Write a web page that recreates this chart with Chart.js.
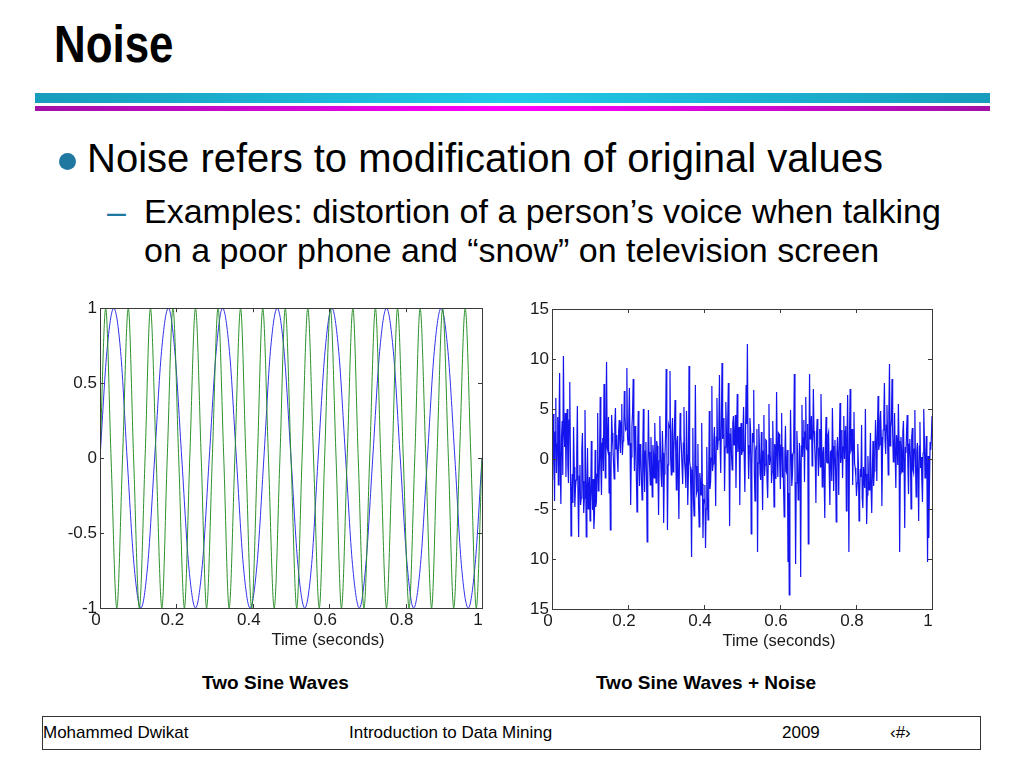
<!DOCTYPE html>
<html>
<head>
<meta charset="utf-8">
<script src="https://cdn.jsdelivr.net/npm/chart.js@4.4.1/dist/chart.umd.min.js"></script>
<style>
  body { margin: 0; width: 1024px; height: 768px; background: #fff; position: relative; overflow: hidden;
         font-family: "Liberation Sans", Arial, sans-serif; color: #000; }
  .abs { position: absolute; white-space: nowrap; }
  #title { left: 54px; top: 19px; font: bold 51px/51px "Liberation Sans", Arial, sans-serif;
           transform: scaleX(0.86); transform-origin: 0 0; }
  #barCyan { left: 35px; top: 93px; width: 955px; height: 10px;
             background: linear-gradient(to right, #179cbc, #22c8e8 50%, #179cbc); }
  #barMagenta { left: 35px; top: 106px; width: 955px; height: 5px;
                background: linear-gradient(to right, #a012a6, #ff00ff 50%, #a012a6); }
  #dot { left: 59px; top: 153px; width: 17px; height: 17px; border-radius: 50%; background: #1f78a0; }
  #line1 { left: 87px; top: 138px; font-size: 40px; line-height: 40px; }
  #dash { left: 107px; top: 194px; font-size: 34px; line-height: 34px; color: #1f78a0; }
  #line2 { left: 144px; top: 191.5px; font-size: 34px; line-height: 39.5px; }
  .caption { top: 672px; width: 260px; text-align: center; font-weight: bold; font-size: 19px; line-height: 22px; }
  #footer { left: 42px; top: 716px; width: 939px; height: 34px; box-sizing: border-box; border: 1.5px solid #333; }
  .foot { top: 723px; font-size: 17px; line-height: 20px; }
  canvas { position: absolute; }
</style>
</head>
<body>
<div class="abs" id="title">Noise</div>
<div class="abs" id="barCyan"></div>
<div class="abs" id="barMagenta"></div>
<div class="abs" id="dot"></div>
<div class="abs" id="line1">Noise refers to modification of original values</div>
<div class="abs" id="dash">–</div>
<div class="abs" id="line2">Examples: distortion of a person’s voice when talking<br>on a poor phone and “snow” on television screen</div>

<canvas id="sineChart" width="460" height="360" style="left:40px; top:295px;"></canvas>
<canvas id="noiseChart" width="460" height="360" style="left:491px; top:295px;"></canvas>

<div class="abs caption" style="left:145.5px;">Two Sine Waves</div>
<div class="abs caption" style="left:576px;">Two Sine Waves + Noise</div>

<div class="abs" id="footer"></div>
<div class="abs foot" style="left:43px;">Mohammed Dwikat</div>
<div class="abs foot" style="left:349px;">Introduction to Data Mining</div>
<div class="abs foot" style="left:782px;">2009</div>
<div class="abs foot" style="left:890px;">‹#›</div>

<script>
// tick positions and their texts
let timeTicks = [0, 0.2, 0.4, 0.6, 0.8, 1];
let timeTickLabels = ['0', '0.2', '0.4', '0.6', '0.8', '1'];
let timeAxisTitle = 'Time (seconds)';
let sineYTicks = [-1, -0.5, 0, 0.5, 1];
let sineYTickLabels = ['-1', '-0.5', '0', '0.5', '1'];
let noiseYTicks = [-15, -10, -5, 0, 5, 10, 15];
let noiseYTickLabels = ['15', '10', '-5', '0', '5', '10', '15'];

// slower wave (blue), read at every eighth of a period
let blueTimes = [0, 0.018, 0.036, 0.054, 0.071, 0.089, 0.107, 0.125, 0.143, 0.161, 0.179, 0.196, 0.214, 0.232,
    0.25, 0.268, 0.286, 0.304, 0.321, 0.339, 0.357, 0.375, 0.393, 0.411, 0.429, 0.446, 0.464, 0.482,
    0.5, 0.518, 0.536, 0.554, 0.571, 0.589, 0.607, 0.625, 0.643, 0.661, 0.679, 0.696, 0.714, 0.732,
    0.75, 0.768, 0.786, 0.804, 0.821, 0.839, 0.857, 0.875, 0.893, 0.911, 0.929, 0.946, 0.964, 0.982, 1];
let blueValues = [0, 0.71, 1, 0.71, 0, -0.71, -1, -0.71,
    0, 0.71, 1, 0.71, 0, -0.71, -1, -0.71,
    0, 0.71, 1, 0.71, 0, -0.71, -1, -0.71,
    0, 0.71, 1, 0.71, 0, -0.71, -1, -0.71,
    0, 0.71, 1, 0.71, 0, -0.71, -1, -0.71,
    0, 0.71, 1, 0.71, 0, -0.71, -1, -0.71,
    0, 0.71, 1, 0.71, 0, -0.71, -1, -0.71,
    0];

// faster wave (green), read at every quarter of a period
let greenTimes = [0, 0.015, 0.029, 0.044, 0.059, 0.074, 0.088, 0.103, 0.118, 0.132, 0.147, 0.162, 0.176, 0.191,
    0.206, 0.221, 0.235, 0.25, 0.265, 0.279, 0.294, 0.309, 0.324, 0.338, 0.353, 0.368, 0.382, 0.397,
    0.412, 0.426, 0.441, 0.456, 0.471, 0.485, 0.5, 0.515, 0.529, 0.544, 0.559, 0.574, 0.588, 0.603,
    0.618, 0.632, 0.647, 0.662, 0.676, 0.691, 0.706, 0.721, 0.735, 0.75, 0.765, 0.779, 0.794, 0.809,
    0.824, 0.838, 0.853, 0.868, 0.882, 0.897, 0.912, 0.926, 0.941, 0.956, 0.971, 0.985, 1];
let greenValues = [0, 1, 0, -1, 0, 1, 0, -1, 0, 1, 0, -1, 0, 1, 0, -1, 0, 1, 0, -1,
    0, 1, 0, -1, 0, 1, 0, -1, 0, 1, 0, -1, 0, 1, 0, -1, 0, 1, 0, -1,
    0, 1, 0, -1, 0, 1, 0, -1, 0, 1, 0, -1, 0, 1, 0, -1, 0, 1, 0, -1,
    0, 1, 0, -1, 0, 1, 0, -1, 0];

// noisy signal, evenly sampled from t = 0 to t = 1 (30 samples per 0.05 s)
let noiseValues = [
    0.4, -2.1, 4.5, 1.9, -4.2, 2.7, 6.1, -1.4, 1.5, 4.2, -2.6, 3.1, 8.6, -0.9, -4.5, 2.2, 3.8, -1.6, 10.3, 2.8, 1.2, 4.6, -1.8, 3.3, 5.0, -0.7, -2.4, 3.9, 7.7, 0.5,
    -7.7, -3.5, -1.5, -4.4, 3.2, -0.8, -4.8, -2.9, -2.1, 0.6, 5.3, -3.8, -7.8, -1.7, -0.6, -4.6, -3.9, 0.9, 2.6, -2.2, -5.4, -3.9, 4.9, -1.1, -7.8, -3.4, 1.1, -5.0, -3.0, -1.8,
    -6.2, -4.1, 1.8, -3.3, -5.1, -2.0, -7.0, -5.6, 0.9, -4.8, -4.3, -1.5, 4.6, -3.2, -2.8, 0.4, 6.2, -0.9, -3.6, 1.6, 2.1, -1.2, 7.5, 2.3, -1.9, 3.6, 9.7, 1.1, 0.8, 4.2,
    -3.4, 0.7, -7.1, -1.9, 4.4, 2.6, 1.2, -0.4, -2.0, 3.4, 5.1, 1.0, 2.4, 0.1, -1.3, 2.8, 3.9, 1.5, 0.6, 3.7, 5.5, 0.4, 1.8, 2.1, 6.8, 4.4, 2.9, 3.0, 9.1, 2.2,
    1.4, 3.8, 7.1, 1.6, -4.6, 0.2, 3.2, 4.6, 8.0, 2.1, -1.2, 3.3, 2.5, -1.8, -5.3, 0.9, 4.8, -0.4, -2.7, 1.5, 0.8, -2.1, -4.1, 0.3, 5.0, -1.0, -3.3, 0.8, 1.7, -1.6,
    -8.3, -1.2, 4.9, 0.7, -1.0, -2.6, 2.2, -0.5, -3.8, 1.4, 0.5, -1.9, 3.6, 0.3, -2.4, 1.8, 1.3, -1.1, -5.6, -0.2, 4.3, 1.0, -1.7, -2.8, 2.8, 0.6, -6.4, -1.5, 0.2, 2.3,
    9.0, 1.9, -7.1, -0.6, 3.4, 3.1, 8.8, 0.2, -1.6, 2.6, 4.1, -1.3, 0.7, 2.9, 5.9, 0.8, -3.1, 1.7, 2.3, -1.9, -6.0, 0.5, 4.6, 2.4, 1.0, -0.8, -2.5, 1.6, 5.2, -0.3,
    -1.2, -2.9, 4.8, 0.4, -4.6, -1.6, 9.3, -0.2, -0.8, -3.7, -9.8, -1.1, 3.1, -4.2, -5.7, -2.0, 7.4, -0.7, -3.4, -3.1, 1.5, -4.5, -6.8, -1.4, -2.2, -3.6, 3.6, -2.5, -7.9, -4.0,
    -4.4, -2.6, -8.9, -5.0, 1.2, -3.8, -6.1, -1.7, 4.8, -3.0, -2.3, 0.1, 7.3, -1.2, -0.5, 1.8, 3.2, -0.3, -4.7, 2.2, 6.1, 0.9, 1.9, 3.4, 8.4, 1.3, -1.4, 3.9, 9.6, 2.0,
    2.4, 4.1, -3.2, 1.2, 5.7, 2.8, 0.6, 3.9, 7.6, 1.0, -6.7, 2.5, 3.1, 0.3, -1.1, 3.6, 4.3, 1.4, 1.7, 4.4, -2.9, 2.2, 6.5, 0.7, 2.0, 3.2, -4.6, 1.9, 3.6, 0.4,
    0.8, 2.7, 5.2, 0.1, -3.3, 2.2, 7.4, 3.5, 11.5, 1.4, -2.0, 0.6, 4.1, 2.9, -7.5, -0.8, 2.6, 1.7, 6.9, -1.3, -4.2, 0.9, 1.3, 3.0, -9.3, -0.4, 3.5, 1.2, -1.5, -2.1,
    2.7, -0.9, -5.1, 0.8, 4.4, -1.7, -0.6, 1.9, 1.8, -2.2, -3.9, 0.4, 5.5, -0.6, 0.2, 2.1, -2.4, -1.3, 3.8, 0.2, -4.8, 1.5, 1.1, -2.0, 6.7, 0.9, -1.8, 2.6, 2.5, -0.5,
    -3.0, 1.4, 4.6, -1.8, 1.2, -2.9, -5.8, 0.3, 3.3, -1.2, -1.4, 0.9, -10.3, -3.4, -13.6, -2.1, 4.9, 0.5, -2.7, -1.6, 0.6, 1.8, 8.5, -0.7, -10.5, -2.4, 2.8, 0.6, -4.1, -3.3,
    1.6, -0.6, -11.8, 1.3, 5.4, 0.2, 2.1, 3.9, -2.3, 2.7, 6.2, 1.1, 0.9, 3.5, -8.5, 0.4, 8.5, 2.0, 3.3, 4.3, -0.7, 1.6, 7.0, 2.8, 1.4, -0.2, -4.4, 2.4, 4.0, 0.9,
    -1.7, 1.1, 3.0, -0.8, 6.5, 2.0, -2.8, 0.5, 1.2, -1.9, -5.9, 1.6, 4.2, -0.3, -0.4, 2.4, 2.7, -1.4, -4.6, 0.7, 0.8, -2.2, 5.1, 1.3, -3.2, 0.1, 1.9, -1.0, -6.3, 0.6,
    2.2, 0.3, -3.6, 2.1, 5.6, -0.4, 0.4, 2.9, -1.9, 1.2, 4.3, 0.0, 2.8, 3.3, -5.2, 1.5, 6.4, -0.7, -9.3, 2.6, 7.0, 0.8, 1.0, 3.0, -2.6, 1.9, 4.7, -0.5, -0.9, -1.8,
    -3.7, -2.4, 1.5, -0.5, -6.2, -3.3, -1.0, -1.8, 3.4, -3.9, -4.9, -0.8, -2.3, -2.9, 5.0, -1.5, -6.5, -3.6, 0.3, -2.2, -3.1, -0.4, 2.6, -3.0, -5.4, -1.2, 1.8, -2.7, -1.2, 0.6,
    3.9, 1.6, -2.2, 2.8, 6.3, 0.9, 1.4, 3.7, 4.8, 2.2, -4.7, 0.7, 2.9, 4.1, 7.6, 1.9, 0.5, 3.4, 5.4, 2.0, -1.6, 4.6, 9.5, 1.3, 3.1, 3.8, 8.0, 2.5, -0.3, 1.0,
    4.6, 0.2, -2.9, 2.4, 1.7, -0.6, 5.5, 1.8, -9.3, -1.5, 2.2, 0.9, -1.3, 2.7, 3.8, -0.3, -6.9, 1.2, 0.6, 3.0, 4.4, -0.8, -3.5, 1.5, 2.0, 0.1, -5.0, 2.2, 3.1, -1.1,
    -1.4, 1.0, 4.9, -0.7, -3.8, 0.8, 1.6, -1.6, -6.2, 1.3, 3.7, -0.9, 0.2, -2.1, -4.3, 0.6, 5.0, 1.9, -1.9, -0.4, 2.3, -1.7, -10.3, 0.3, -7.9, -2.5, 1.7, 0.9, 2.1, 4.3
];

Chart.defaults.font.family = "'Liberation Sans', Arial, sans-serif";
Chart.defaults.font.size = 17;
Chart.defaults.color = '#1a1a1a';

// MATLAB style box with ticks pointing inwards on all four sides,
// plus the axis title which sits right of centre in the original
let framePlugin = {
    id: 'frame',
    afterDatasetsDraw(chart) {
        let ctx = chart.ctx;
        let a = chart.chartArea;
        let x = chart.scales.x;
        let y = chart.scales.y;
        ctx.save();
        ctx.strokeStyle = '#3a3a3a';
        ctx.lineWidth = 1;
        ctx.beginPath();
        x.ticks.forEach(t => {
            let px = Math.round(x.getPixelForValue(t.value)) + 0.5;
            ctx.moveTo(px, a.bottom); ctx.lineTo(px, a.bottom - 4);
            ctx.moveTo(px, a.top); ctx.lineTo(px, a.top + 4);
        });
        y.ticks.forEach(t => {
            let py = Math.round(y.getPixelForValue(t.value)) + 0.5;
            ctx.moveTo(a.left, py); ctx.lineTo(a.left + 4, py);
            ctx.moveTo(a.right, py); ctx.lineTo(a.right - 4, py);
        });
        ctx.stroke();
        ctx.strokeRect(Math.round(a.left) + 0.5, Math.round(a.top) + 0.5, Math.round(a.width), Math.round(a.height));

        ctx.fillStyle = '#1a1a1a';
        ctx.font = "16.5px 'Liberation Sans', Arial, sans-serif";
        ctx.textAlign = 'center';
        ctx.textBaseline = 'middle';
        ctx.fillText(timeAxisTitle, (a.left + a.right) / 2 + 37, a.bottom + 32);
        ctx.restore();
    }
};

function axes(yTicks, yLabels, yMin, yMax, yWidth, xHeight) {
    return {
        x: {
            type: 'linear', min: 0, max: 1,
            afterBuildTicks: s => { s.ticks = timeTicks.map(v => ({ value: v })); },
            afterFit: s => { s.height = xHeight; },
            grid: { display: false, drawTicks: false },
            border: { display: false },
            ticks: { padding: 2, labelOffset: -4, maxRotation: 0, autoSkip: false,
                     callback: (v, i) => timeTickLabels[i] }
        },
        y: {
            type: 'linear', min: yMin, max: yMax,
            afterBuildTicks: s => { s.ticks = yTicks.map(v => ({ value: v })); },
            afterFit: s => { s.width = yWidth; },
            grid: { display: false, drawTicks: false },
            border: { display: false },
            ticks: { padding: 3, autoSkip: false, callback: (v, i) => yLabels[i] }
        }
    };
}

new Chart(document.getElementById('sineChart'), {
    type: 'line',
    data: {
        datasets: [{
            data: greenTimes.map((t, i) => ({ x: t, y: greenValues[i] })),
            borderColor: 'rgb(45, 145, 45)',
            borderWidth: 1,
            cubicInterpolationMode: 'monotone'
        }, {
            data: blueTimes.map((t, i) => ({ x: t, y: blueValues[i] })),
            borderColor: 'rgb(50, 50, 235)',
            borderWidth: 1,
            cubicInterpolationMode: 'monotone'
        }]
    },
    options: {
        responsive: false,
        animation: false,
        elements: { point: { radius: 0 } },
        layout: { padding: { left: 0, top: 13, right: 18, bottom: 0 } },
        plugins: { legend: { display: false }, tooltip: { enabled: false } },
        scales: axes(sineYTicks, sineYTickLabels, -1, 1, 60, 47)
    },
    plugins: [framePlugin]
});

new Chart(document.getElementById('noiseChart'), {
    type: 'line',
    data: {
        datasets: [{
            data: noiseValues.map((v, i) => ({ x: i / (noiseValues.length - 1), y: v })),
            borderColor: '#1414ee',
            borderWidth: 1.2,
            tension: 0
        }]
    },
    options: {
        responsive: false,
        animation: false,
        elements: { point: { radius: 0 } },
        layout: { padding: { left: 0, top: 14, right: 19, bottom: 0 } },
        plugins: { legend: { display: false }, tooltip: { enabled: false } },
        scales: axes(noiseYTicks, noiseYTickLabels, -15, 15, 61, 46)
    },
    plugins: [framePlugin]
});
</script>
</body>
</html>
